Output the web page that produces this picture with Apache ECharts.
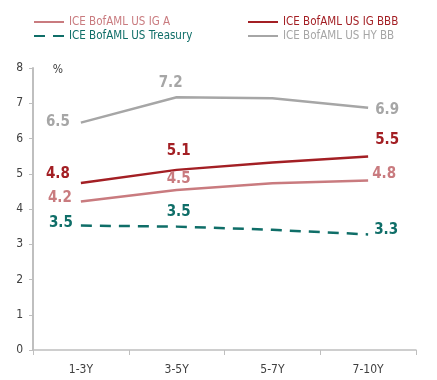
<!DOCTYPE html>
<html><head><meta charset="utf-8">
<script src="https://cdn.jsdelivr.net/npm/echarts@6/dist/echarts.min.js"></script>
<style>html,body{margin:0;padding:0;background:#fff}#c{width:437px;height:380px}</style>
</head><body><div id="c"></div>
<script>
const categories = ['1-3Y', '3-5Y', '5-7Y', '7-10Y'];
const igA = [4.21, 4.54, 4.73, 4.81];
const igBBB = [4.74, 5.11, 5.32, 5.49];
const treasury = [3.53, 3.50, 3.41, 3.28];
const hyBB = [6.45, 7.17, 7.14, 6.87];
const igALabels = ['4.2', '4.5', '', '4.8'];
const igBBBLabels = ['4.8', '5.1', '', '5.5'];
const treasuryLabels = ['3.5', '3.5', '', '3.3'];
const hyBBLabels = ['6.5', '7.2', '', '6.9'];
const yTicks = [0,1,2,3,4,5,6,7,8];

const FONT = "'DejaVu Sans Condensed', 'Liberation Sans', sans-serif";
const C = {a:'#C97B7F', bbb:'#A31F24', t:'#0F6E68', hy:'#A6A6A6'};

function mk(vals, labels, color, offsets){
  return vals.map((v,i)=>({
    value:v,
    label: labels[i] ? {show:true, formatter:labels[i], color:color, fontFamily:FONT, fontWeight:'bold', fontSize:15,
      position: offsets[i][0], offset: offsets[i][1] || [0,0]} : {show:false}
  }));
}
const common = {type:'line', symbol:'circle', symbolSize:2, showSymbol:true, itemStyle:{color:'rgba(0,0,0,0)', borderWidth:0}, emphasis:{disabled:true}};
const chart = echarts.init(document.getElementById('c'), null, {renderer:'canvas'});
chart.setOption({
  animation:false,
  textStyle:{fontFamily:FONT},
  legend:[
    {left:28, top:11, orient:'vertical', itemWidth:30, itemHeight:10, itemGap:2, itemStyle:{color:'rgba(0,0,0,0)', borderWidth:0},
     data:[{name:'ICE BofAML US IG A', textStyle:{color:C.a}},{name:'ICE BofAML US Treasury', textStyle:{color:C.t}}],
     textStyle:{fontSize:11.5, fontFamily:FONT}},
    {left:242, top:11, orient:'vertical', itemWidth:30, itemHeight:10, itemGap:2, itemStyle:{color:'rgba(0,0,0,0)', borderWidth:0},
     data:[{name:'ICE BofAML US IG BBB', textStyle:{color:C.bbb}},{name:'ICE BofAML US HY BB', textStyle:{color:C.hy}}],
     textStyle:{fontSize:11.5, fontFamily:FONT}}
  ],
  grid:{left:33, right:21, top:68, bottom:30},
  xAxis:{type:'category', data:categories, boundaryGap:true,
    axisLine:{lineStyle:{color:'#BFBFBF', width:1.5}},
    axisTick:{show:true, length:5, lineStyle:{color:'#BFBFBF'}},
    axisLabel:{color:'#404040', fontSize:12, fontFamily:FONT, margin:14}},
  yAxis:{type:'value', min:0, max:8, interval:1,
    name:'%', nameLocation:'end', nameGap:-8, nameTextStyle:{color:'#404040', fontSize:12, fontFamily:FONT, padding:[0,0,0,50]},
    axisLine:{show:true, lineStyle:{color:'#BFBFBF', width:2}},
    axisTick:{show:true, length:4, lineStyle:{color:'#BFBFBF'}},
    splitLine:{show:false},
    axisLabel:{color:'#404040', fontSize:12, fontFamily:FONT, margin:10}},
  series:[
    Object.assign({}, common, {name:'ICE BofAML US IG A', color:C.a, lineStyle:{width:2.5, color:C.a},
     data:mk(igA, igALabels, C.a, [['left',[-3,-3]],['top',[2,3]],null,['right',[-2,-6]]])}),
    Object.assign({}, common, {name:'ICE BofAML US IG BBB', color:C.bbb, lineStyle:{width:2.5, color:C.bbb},
     data:mk(igBBB, igBBBLabels, C.bbb, [['left',[-5,-9]],['top',[2,-5]],null,['right',[1,-16]]])}),
    Object.assign({}, common, {name:'ICE BofAML US Treasury', color:C.t, lineStyle:{width:2.5, color:C.t, type:[11,8]},
     data:mk(treasury, treasuryLabels, C.t, [['left',[-2,-2]],['top',[2,-1]],null,['right',[0,-4]]])}),
    Object.assign({}, common, {name:'ICE BofAML US HY BB', color:C.hy, lineStyle:{width:2.5, color:C.hy},
     data:mk(hyBB, hyBBLabels, C.hy, [['left',[-5,-1]],['top',[-6,-1]],null,['right',[1,2]]])})
  ]
});
</script></body></html>
